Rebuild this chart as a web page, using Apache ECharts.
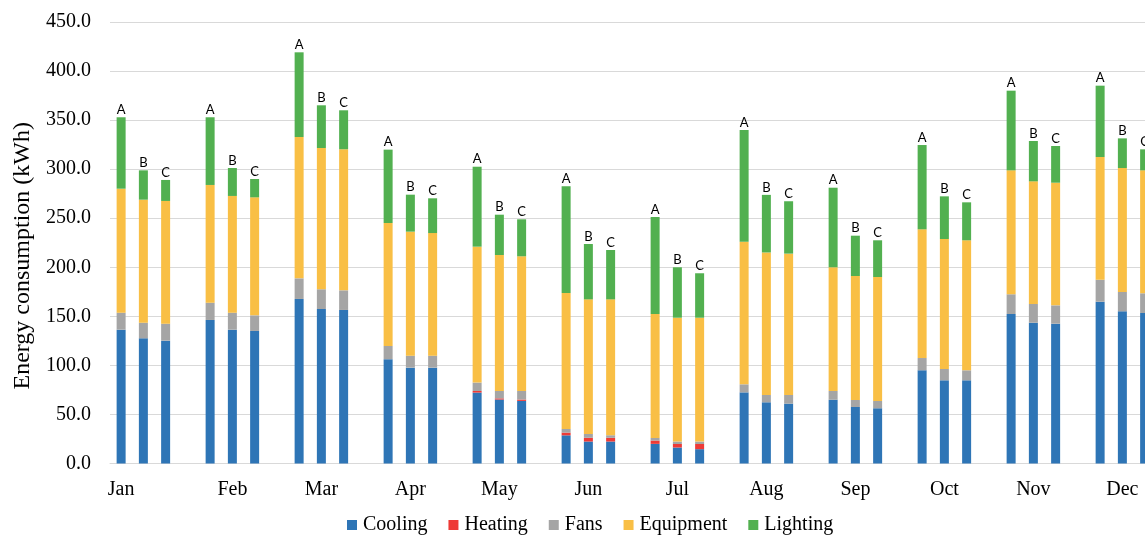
<!DOCTYPE html>
<html>
<head>
<meta charset="utf-8">
<script src="https://cdn.jsdelivr.net/npm/echarts@6/dist/echarts.min.js"></script>
<style>
html,body{margin:0;padding:0;background:#fff;}
#chart{width:1145px;height:536px;}
</style>
</head>
<body>
<div id="chart"></div>
<script>
const months = ['Jan','Feb','Mar','Apr','May','Jun','Jul','Aug','Sep','Oct','Nov','Dec'];
const variants = ['A','B','C'];
// values per month, in order A, B, C (kWh)
const cooling   = [136.4,127.6,125.2, 146.3,136.4,135.1, 167.7,157.5,156.5, 106.3,97.7,97.7, 72.3,65.2,63.8, 28.7,22.4,22.4, 20.0,16.3,14.6, 72.5,62.4,61.0, 65.0,57.6,56.3, 95.0,84.8,84.8, 152.4,143.5,142.5, 164.9,155.1,153.4];
const heating   = [0,0,0, 0,0,0, 0,0,0, 0,0,0, 1.6,1.2,1.4, 2.8,3.8,3.8, 3.4,3.6,5.3, 0,0,0, 0,0,0, 0,0,0, 0,0,0, 0,0,0];
const fans      = [17.3,15.9,17.3, 17.6,17.3,15.9, 21.0,20.1,20.0, 13.5,12.2,12.2, 8.6,7.5,8.7, 3.7,3.9,2.6, 2.7,2.5,2.5, 8.2,7.4,8.8, 8.9,7.1,7.4, 12.5,11.5,10.2, 20.1,19.1,18.7, 22.4,19.7,20.1];
const equipment = [126.4,125.4,125.1, 120.0,119.0,120.3, 144.1,144.0,143.8, 125.3,126.4,125.0, 138.5,138.6,137.3, 138.6,137.2,138.5, 126.3,126.2,126.2, 145.4,145.3,144.1, 126.1,126.4,126.4, 131.2,132.5,132.5, 126.3,125.0,125.0, 125.1,126.4,125.3];
const lighting  = [72.8,29.9,21.4, 69.0,28.5,18.7, 86.3,43.5,39.7, 74.8,37.7,35.4, 81.5,41.1,37.7, 108.7,56.4,50.3, 98.8,51.4,45.3, 113.7,58.7,53.4, 81.1,41.1,37.4, 85.9,43.5,38.7, 81.2,41.1,37.4, 72.7,30.2,21.4];
const seriesNames = ['Cooling','Heating','Fans','Equipment','Lighting'];
const seriesColors = ['#2E75B6','#EE3A36','#A5A5A5','#F9BF45','#52B050'];

// each month takes 4 slots: A, B, C and an empty gap slot
function toSlots(arr){
  const out = [];
  for (let m = 0; m < months.length; m++){
    out.push(arr[3*m], arr[3*m+1], arr[3*m+2], '-');
  }
  return out;
}
const xLabels = [];
const slotLetters = [];
for (let m = 0; m < months.length; m++){
  const lab = ['', '', '', ''];
  lab[m === 0 ? 0 : 1] = months[m];
  xLabels.push(...lab);
  slotLetters.push(...variants, '');
}

const allData = [cooling, heating, fans, equipment, lighting];
const serif = 'Liberation Serif';
const series = allData.map((arr, i) => ({
  name: seriesNames[i],
  type: 'bar',
  stack: 'total',
  barWidth: 9,
  data: toSlots(arr),
  itemStyle: {color: seriesColors[i]},
  emphasis: {disabled: true},
  label: i === 4 ? {
    show: true,
    position: 'top',
    distance: 1,
    color: '#000',
    fontFamily: 'Lato',
    fontSize: 13,
    formatter: p => slotLetters[p.dataIndex]
  } : {show: false}
}));

const chart = echarts.init(document.getElementById('chart'), null, {renderer: 'canvas'});
chart.setOption({
  animation: false,
  backgroundColor: '#fff',
  grid: {left: 110, top: 22, right: -33, bottom: 72.5, containLabel: false, outerBoundsMode: 'none'},
  legend: {
    left: 342, top: 510,
    icon: 'rect', itemWidth: 10, itemHeight: 10, itemGap: 21,
    textStyle: {fontFamily: serif, fontSize: 20, color: '#000', padding: [0,0,0,1]},
    data: seriesNames
  },
  xAxis: {
    type: 'category',
    data: xLabels,
    axisLine: {lineStyle: {color: '#d9d9d9', width: 1}},
    axisTick: {show: false},
    axisLabel: {interval: 0, margin: 16, fontFamily: serif, fontSize: 20, color: '#000'}
  },
  yAxis: {
    type: 'value',
    min: 0, max: 450, interval: 50,
    name: 'Energy consumption (kWh)',
    nameLocation: 'middle',
    nameRotate: 90,
    nameGap: 73,
    nameTextStyle: {fontFamily: serif, fontSize: 24, color: '#000', padding: [0, 26, 0, 0]},
    axisLine: {show: false},
    axisTick: {show: false},
    splitLine: {lineStyle: {color: '#d9d9d9', width: 1}},
    axisLabel: {margin: 19, fontFamily: serif, fontSize: 20, color: '#000', formatter: v => v.toFixed(1)}
  },
  series: series
});
</script>
</body>
</html>
